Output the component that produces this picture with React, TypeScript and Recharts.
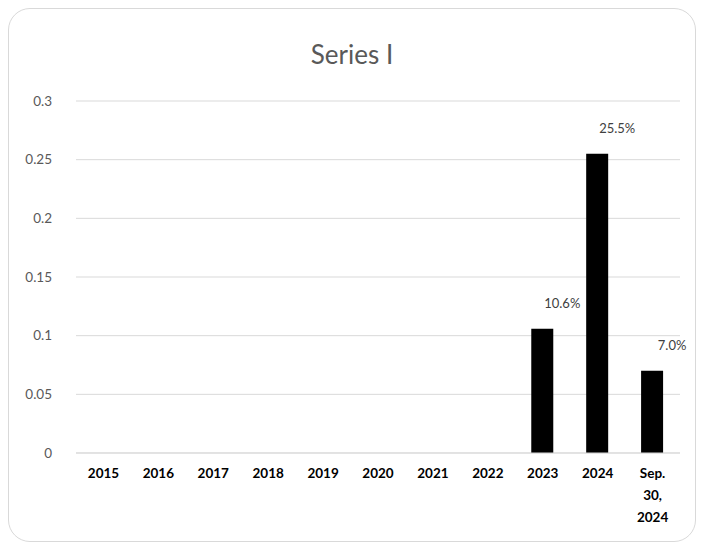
import React from 'react';
import { BarChart, Bar, XAxis, YAxis, CartesianGrid, LabelList } from 'recharts';

const categories = ['2015', '2016', '2017', '2018', '2019', '2020', '2021', '2022', '2023', '2024', 'Sep. 30, 2024'];
const seriesValues = [0, 0, 0, 0, 0, 0, 0, 0, 0.106, 0.255, 0.07];
const yTicks = [0, 0.05, 0.1, 0.15, 0.2, 0.25, 0.3];

const data = categories.map((name, i) => ({ name, value: seriesValues[i] }));

const FONT = 'Lato, "Open Sans", sans-serif';

const XTick = (props: any) => {
  const { x, y, payload } = props;
  const words: string[] = String(payload.value).split(' ');
  return (
    <g transform={`translate(${x},${y})`}>
      {words.map((w, i) => (
        <text
          key={i}
          x={0}
          y={i * 22}
          dy={17}
          textAnchor="middle"
          fill="#000"
          fontWeight="bold"
          fontSize={13.5}
          fontFamily={FONT}
        >
          {w}
        </text>
      ))}
    </g>
  );
};

const ValueLabel = (props: any) => {
  const { x, y, width, value } = props;
  if (!value) return null;
  return (
    <text
      x={x + width / 2 + 20}
      y={y - 24}
      textAnchor="middle"
      dominantBaseline="middle"
      fill="#404040"
      fontSize={13}
      fontFamily={FONT}
    >
      {(value * 100).toFixed(1) + '%'}
    </text>
  );
};

export default function App() {
  return (
    <div
      style={{
        position: 'relative',
        width: 686,
        height: 532,
        border: '1px solid #d9d9d9',
        borderRadius: 22,
        background: '#fff',
        fontFamily: FONT,
      }}
    >
      <div
        style={{
          position: 'absolute',
          top: 29,
          left: 0,
          width: '100%',
          textAlign: 'center',
          fontSize: 26,
          color: '#595959',
        }}
      >
        Series I
      </div>
      <BarChart
        width={686}
        height={532}
        data={data}
        margin={{ top: 92, right: 15, bottom: 0, left: 0 }}
        barCategoryGap="30%"
      >
        <CartesianGrid vertical={false} stroke="#d9d9d9" />
        <YAxis
          domain={[0, 0.3]}
          ticks={yTicks}
          width={67}
          axisLine={false}
          tickLine={false}
          tickSize={0}
          tickMargin={24}
          tick={{ fill: '#595959', fontSize: 13.5, fontFamily: FONT }}
        />
        <XAxis
          dataKey="name"
          height={88}
          interval={0}
          axisLine={{ stroke: '#d9d9d9' }}
          tickLine={false}
          tick={<XTick />}
        />
        <Bar dataKey="value" fill="#000" barSize={22} isAnimationActive={false}>
          <LabelList dataKey="value" content={<ValueLabel />} />
        </Bar>
      </BarChart>
    </div>
  );
}
